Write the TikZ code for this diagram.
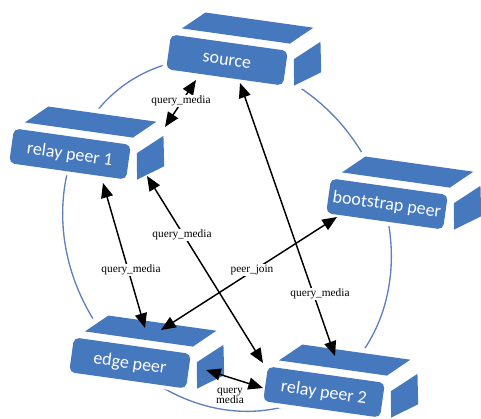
\documentclass[tikz,border=0pt]{standalone}
\usepackage{fontspec}
\setmainfont{Liberation Serif}
\newfontfamily\boxfont{Carlito}
\usetikzlibrary{arrows.meta}
\definecolor{boxblue}{RGB}{70,120,190}
\definecolor{ringblue}{RGB}{95,128,190}
\newcommand\peerblock[4]{%
  \begin{scope}[shift={(#2,#3)}, rotate=-8]
    \fill[white] (-63,-21) -- (-53,-30) -- (-31,-49) -- (85,-49) -- (100,-34) -- (100,1) -- (74,21) -- (-63,22) -- cycle;
    \fill[face, rounded corners=4] (-59,-17.5) rectangle (59,17.5);
    \fill[face] (-49,-25) -- (60,-25) -- (81,-44) -- (-28,-44) -- cycle;
    \fill[face] (66,-10) -- (90,-31) -- (95,-1) -- (70,16) -- cycle;
    \node[boxtext] (#1) at (0,1) {#4};
  \end{scope}}
\begin{document}
\begin{tikzpicture}[x=0.75pt,y=-0.75pt,
  face/.style={fill=boxblue},
  boxtext/.style={font=\boxfont\fontsize{13.5}{15}\selectfont, text=white, transform shape, inner sep=0pt},
  lbl/.style={font=\fontsize{8.5}{9.5}\selectfont, fill=white, inner sep=1pt, align=center},
  conn/.style={{Triangle[length=11pt,width=9pt]}-{Triangle[length=11pt,width=9pt]}, line width=1.1pt, black}
]
\useasboundingbox (0,0) rectangle (481,418);
% ring
\draw[ringblue, line width=1pt, rotate around={-60:(227,235)}] (227,235) ellipse [x radius=182, y radius=158];
% blocks
\peerblock{source}{227}{60}{source}
\peerblock{relay1}{70}{154}{relay peer 1}
\peerblock{bootstrap}{387}{204}{bootstrap peer}
\peerblock{edge}{130}{363}{edge peer}
\peerblock{relay2}{324}{392}{relay peer 2}
% connector end points
\coordinate (s1) at (196,80);
\coordinate (r1a) at (165,127);
\coordinate (s2) at (240,83);
\coordinate (r2a) at (335,356);
\coordinate (r1b) at (103,183);
\coordinate (e1) at (145,328);
\coordinate (r1c) at (147,176);
\coordinate (r2b) at (263,363);
\coordinate (b1) at (337,217);
\coordinate (e2) at (161,330);
\coordinate (e3) at (206,370);
\coordinate (r2c) at (263,388);
% connectors
\draw[conn] (s1) -- (r1a);
\draw[conn] (s2) -- (r2a);
\draw[conn] (r1b) -- (e1);
\draw[conn] (r1c) -- (r2b);
\draw[conn] (b1) -- (e2);
\draw[conn] (e3) -- (r2c);
% labels
\node[lbl] (l1) at (181,101) {query\_media};
\node[lbl] (l2) at (320,294) {query\_media};
\node[lbl] (l3) at (131,270) {query\_media};
\node[lbl] (l4) at (182,235) {query\_media};
\node[lbl] (l5) at (252,270) {peer\_join};
\node[lbl, fill=none] (l6) at (230,396) {query\\[-2pt]media};
\end{tikzpicture}
\end{document}
